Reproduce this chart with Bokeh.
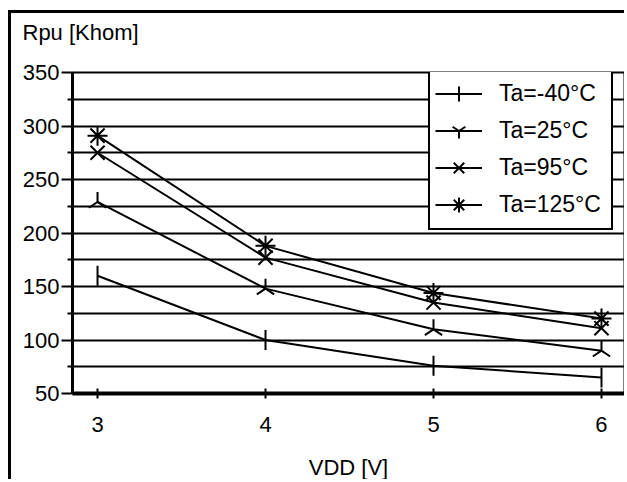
import math
from bokeh.plotting import figure
from bokeh.models import FixedTicker, Range1d, Legend, LegendItem
from bokeh.embed import file_html
from bokeh.resources import INLINE

# ---- data ----
vdd = [3, 4, 5, 6]
r_m40 = [160, 100, 76, 65]
r_25 = [229, 148, 110, 90]
r_95 = [275, 177, 135, 111]
r_125 = [291, 188, 144, 120]
series_labels = ["Ta=-40°C", "Ta=25°C", "Ta=95°C", "Ta=125°C"]
plot_markers = ["dash", "y", "x", "asterisk"]
plot_angles = [math.pi / 2, math.pi, 0, 0]
legend_markers = ["cross", "y", "x", "asterisk"]
x_ticks = [3, 4, 5, 6]
y_major = [50, 100, 150, 200, 250, 300, 350]
y_minor = [75, 125, 175, 225, 275, 325]
y_grid = [50, 75, 100, 125, 150, 175, 200, 225, 250, 275, 300, 325, 350]
y_title = "Rpu [Khom]"
x_title = "VDD [V]"

FONT = "Liberation Sans"

p = figure(width=616, height=469,
           x_range=Range1d(2.851, 6.137), y_range=Range1d(50, 350),
           output_backend="svg", toolbar_location=None,
           min_border_left=61, min_border_top=59, min_border_bottom=89,
           min_border_right=3)
p.styles = {"margin-left": "8px", "margin-top": "10px",
            "border-left": "3px solid black", "border-top": "3px solid black"}

# the y-axis name sits top-left, above the plot (a second blank line lifts it)
p.title.text = y_title + "\n "
p.title.align = "left"
p.title.offset = -50
p.title.text_font = FONT
p.title.text_font_size = "22px"
p.title.text_font_style = "normal"
p.title.text_color = "black"
p.title.standoff = 6

p.outline_line_color = "black"
p.outline_line_width = 2
p.outline_line_alpha = 1

# axes
p.xaxis.ticker = FixedTicker(ticks=x_ticks)
p.xaxis.axis_label = x_title
p.xaxis.axis_line_width = 4
p.xaxis.major_tick_in = 5
p.xaxis.major_tick_out = 5
p.xaxis.major_tick_line_width = 2
p.xaxis.minor_tick_line_color = None
p.xaxis.major_label_standoff = 18
p.xaxis.axis_label_standoff = 20

p.yaxis.ticker = FixedTicker(ticks=y_major, minor_ticks=y_minor)
p.yaxis.axis_line_width = 3
p.yaxis.major_tick_in = 0
p.yaxis.major_tick_out = 11
p.yaxis.minor_tick_in = 0
p.yaxis.minor_tick_out = 5
p.yaxis.major_tick_line_width = 2
p.yaxis.minor_tick_line_width = 2
p.yaxis.major_label_standoff = 2

for ax in (p.xaxis, p.yaxis):
    ax.axis_line_color = "black"
    ax.major_tick_line_color = "black"
    ax.major_label_text_font = FONT
    ax.major_label_text_font_size = "22px"
    ax.major_label_text_color = "black"
    ax.axis_label_text_font = FONT
    ax.axis_label_text_font_size = "22px"
    ax.axis_label_text_font_style = "normal"
    ax.axis_label_text_color = "black"
p.yaxis.minor_tick_line_color = "black"

p.xgrid.grid_line_color = None
p.ygrid.ticker = FixedTicker(ticks=y_grid)
p.ygrid.grid_line_color = "black"
p.ygrid.grid_line_width = 2
p.ygrid.grid_line_alpha = 1

items = []
for ys, lab, mk, ang, lmk in zip([r_m40, r_25, r_95, r_125], series_labels,
                                 plot_markers, plot_angles, legend_markers):
    ln = p.line(vdd, ys, line_color="black", line_width=2)
    p.scatter(vdd, ys, marker=mk, size=20, angle=ang, line_color="black",
              line_width=2, fill_color=None)
    # legend-only glyph (hidden in the plot)
    lg = p.scatter(vdd, ys, marker=lmk, size=20, line_color="black",
                   line_width=2, fill_color=None, visible=False)
    items.append(LegendItem(label=lab, renderers=[ln, lg]))

legend = Legend(items=items, location=(356, 163))
legend.label_text_font = FONT
legend.label_text_font_size = "23px"
legend.label_text_color = "black"
legend.glyph_width = 47
legend.glyph_height = 37
legend.label_height = 37
legend.label_width = 107
legend.spacing = 0
legend.padding = 5
legend.margin = 0
legend.label_standoff = 17
legend.border_line_color = "black"
legend.border_line_width = 2
legend.border_line_alpha = 1
legend.background_fill_color = "white"
legend.background_fill_alpha = 1
legend.inactive_fill_alpha = 0
p.add_layout(legend, "center")

open("out.html", "w").write(file_html(p, INLINE))
